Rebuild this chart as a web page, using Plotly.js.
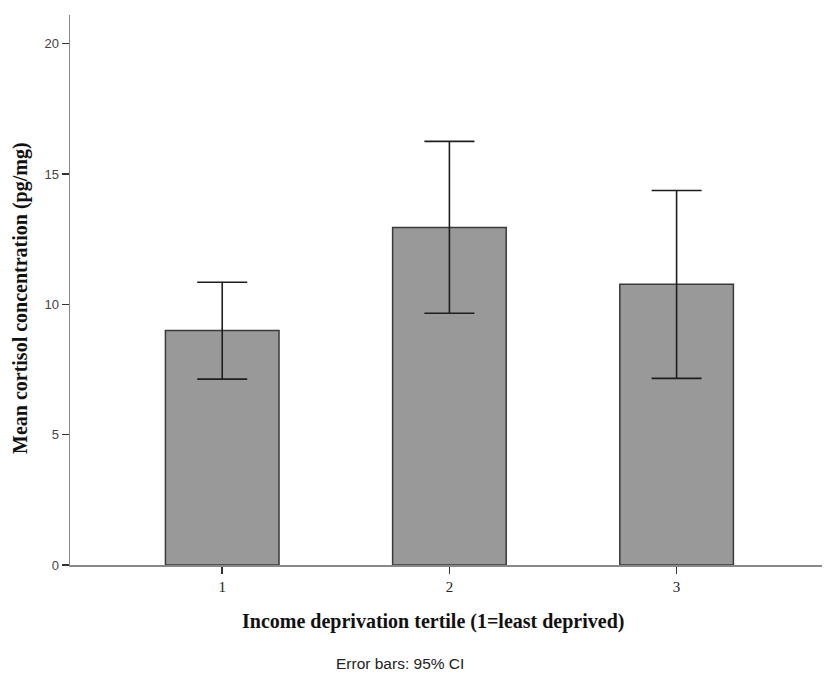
<!DOCTYPE html>
<html>
<head>
<meta charset="utf-8">
<script src="https://cdn.plot.ly/plotly-3.0.1.min.js"></script>
<style>html,body{margin:0;padding:0;background:#fff;}#chart{width:825px;height:679px;}</style>
</head>
<body>
<div id="chart"></div>
<script>
const categories = [1, 2, 3];
const tickLabels = ['1', '2', '3'];
const means = [9.00, 12.95, 10.77];
const ciUpper = [10.85, 16.25, 14.37];
const ciLower = [7.13, 9.66, 7.16];
const yTicks = [0, 5, 10, 15, 20];

const errPlus = means.map((m, i) => ciUpper[i] - m);
const errMinus = means.map((m, i) => m - ciLower[i]);

const trace = {
  type: 'bar',
  x: categories,
  y: means,
  width: 0.5,
  marker: {color: '#999999', line: {color: '#3a3a3a', width: 1.5}},
  error_y: {
    type: 'data', symmetric: false,
    array: errPlus, arrayminus: errMinus,
    color: '#1e1e1e', thickness: 1.6, width: 25
  },
  hoverinfo: 'none'
};

const layout = {
  width: 825, height: 679,
  margin: {l: 70, r: 3, t: 15, b: 114},
  paper_bgcolor: '#ffffff', plot_bgcolor: '#ffffff',
  showlegend: false,
  xaxis: {
    range: [0.33, 3.64],
    tickmode: 'array', tickvals: categories, ticktext: tickLabels,
    ticks: 'outside', ticklen: 7, tickwidth: 1.5, tickcolor: '#333',
    showline: true, linecolor: '#888', linewidth: 1.5,
    showgrid: false, zeroline: false,
    tickfont: {family: 'Liberation Serif, Times New Roman, serif', size: 15, color: '#222'}
  },
  yaxis: {
    range: [0, 21.1],
    tickmode: 'array', tickvals: yTicks,
    ticks: 'outside', ticklen: 7, tickwidth: 1.5, tickcolor: '#333',
    showline: true, linecolor: '#888', linewidth: 1.5,
    showgrid: false, zeroline: false,
    tickfont: {family: 'Liberation Sans, Arial, sans-serif', size: 13, color: '#444'}
  },
  annotations: [
    {text: '<b>Mean cortisol concentration (pg/mg)</b>', xref: 'paper', yref: 'paper',
     x: (20 - 70) / 752, y: (565 - 298) / 550, xanchor: 'center', yanchor: 'middle', textangle: -90, showarrow: false,
     font: {family: 'Liberation Serif, Times New Roman, serif', size: 20, color: '#111'}},
    {text: '<b>Income deprivation tertile (1=least deprived)</b>', xref: 'paper', yref: 'paper',
     x: (433 - 70) / 752, y: -(622 - 565) / 550, xanchor: 'center', yanchor: 'middle', showarrow: false,
     font: {family: 'Liberation Serif, Times New Roman, serif', size: 20, color: '#111'}},
    {text: 'Error bars: 95% CI', xref: 'paper', yref: 'paper',
     x: (400 - 70) / 752, y: -(663 - 565) / 550, xanchor: 'center', yanchor: 'middle', showarrow: false,
     font: {family: 'Liberation Sans, Arial, sans-serif', size: 15.5, color: '#222'}}
  ]
};

Plotly.newPlot('chart', [trace], layout, {displayModeBar: false, staticPlot: true});
</script>
</body>
</html>
